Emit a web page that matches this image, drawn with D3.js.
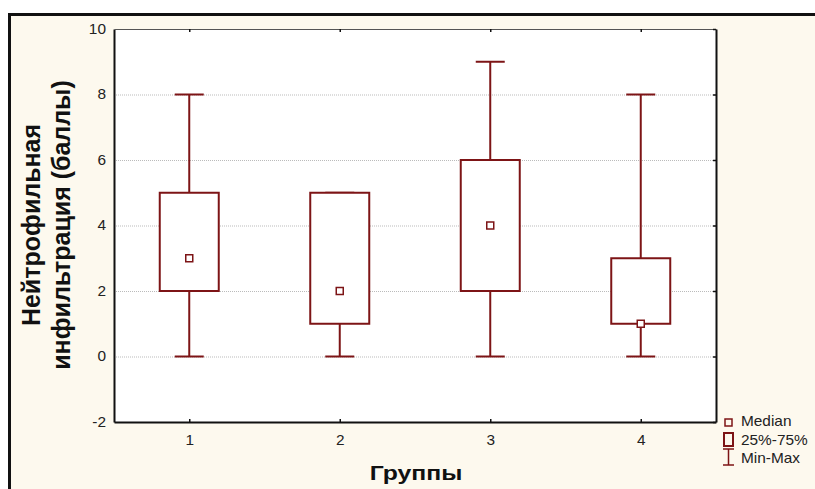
<!DOCTYPE html>
<html>
<head>
<meta charset="utf-8">
<script src="https://cdn.jsdelivr.net/npm/d3@7"></script>
<style>
  body { margin: 0; background: #fff; }
  svg { display: block; font-family: Arial, "Liberation Sans", sans-serif; }
</style>
</head>
<body>
<div id="chart"></div>
<script>
    // box plot data
    const groups = [1, 2, 3, 4];
    const minVals = [0, 0, 0, 0];
    const q1Vals = [2, 1, 2, 1];
    const medianVals = [3, 2, 4, 1];
    const q3Vals = [5, 5, 6, 3];
    const maxVals = [8, 5, 9, 8];
    const yTicks = [-2, 0, 2, 4, 6, 8, 10];
    const gridTicks = [0, 2, 4, 6, 8];
    const legendLabels = ["Median", "25%-75%", "Min-Max"];

    const width = 815;
    const height = 489;
    const plotLeft = 114, plotRight = 716, plotTop = 29, plotBottom = 422;
    const boxColor = "#7d1416";
    const boxWidth = 59;
    const capWidth = 29;
    const stretch = 1.1; // the original text looks a bit wide

    const data = groups.map((g, i) => ({
      group: g, min: minVals[i], q1: q1Vals[i], median: medianVals[i], q3: q3Vals[i], max: maxVals[i]
    }));

    const xScale = d3.scaleLinear().domain([0.5, 4.5]).range([plotLeft, plotRight]);
    const yScale = d3.scaleLinear().domain([-2, 10]).range([plotBottom, plotTop]);

    const svg = d3.select("#chart").append("svg")
      .attr("width", width)
      .attr("height", height);

    //BACKGROUND AND FRAME
    svg.append("rect")
      .attr("x", 8).attr("y", 13)
      .attr("width", width - 8).attr("height", height - 13)
      .attr("fill", "#fdf9ee");
    svg.append("line")
      .attr("x1", 8).attr("x2", width).attr("y1", 14.5).attr("y2", 14.5)
      .attr("stroke", "#111").attr("stroke-width", 3);
    svg.append("line")
      .attr("x1", 9.5).attr("x2", 9.5).attr("y1", 13).attr("y2", height)
      .attr("stroke", "#111").attr("stroke-width", 3);

    svg.append("rect")
      .attr("x", plotLeft).attr("y", plotTop)
      .attr("width", plotRight - plotLeft).attr("height", plotBottom - plotTop)
      .attr("fill", "#fff");

    //GRID
    svg.selectAll(".grid")
      .data(gridTicks)
      .enter()
      .append("line")
      .attr("class", "grid")
      .attr("x1", plotLeft).attr("x2", plotRight)
      .attr("y1", d => yScale(d) + 0.5).attr("y2", d => yScale(d) + 0.5)
      .attr("stroke", "#bbb")
      .attr("stroke-width", 1)
      .attr("stroke-dasharray", "1,1");

    //AXES
    const yAxis = d3.axisLeft(yScale).tickValues(yTicks).tickFormat(d => String(d)).tickSize(0).tickPadding(7.3);
    const gy = svg.append("g")
      .attr("transform", "translate(" + plotLeft + ",0)")
      .call(yAxis);

    const xAxis = d3.axisBottom(xScale).tickValues(groups).tickFormat(d => String(d))
      .tickSizeInner(-3).tickSizeOuter(0).tickPadding(13);
    const gx = svg.append("g")
      .attr("transform", "translate(0," + plotBottom + ")")
      .call(xAxis);

    const gTop = svg.append("g")
      .attr("transform", "translate(0," + plotTop + ")")
      .call(d3.axisTop(xScale).tickValues(groups).tickSizeInner(-3).tickSizeOuter(0).tickFormat(""));

    const gRight = svg.append("g")
      .attr("transform", "translate(" + plotRight + ",0)")
      .call(d3.axisRight(yScale).tickValues(yTicks).tickSizeInner(-3).tickSizeOuter(0).tickFormat(""));

    [gy, gx, gTop, gRight].forEach(g => {
      g.selectAll("text")
        .attr("transform", "scale(" + stretch + ",1)")
        .style("font-family", "Arial, 'Liberation Sans', sans-serif")
        .style("font-size", "14px")
        .style("fill", "#222");
      g.selectAll(".tick line").attr("stroke", "#111").attr("stroke-width", 1.5);
    });
    gy.select(".domain").attr("stroke", "#111").attr("stroke-width", 2);
    gx.select(".domain").attr("stroke", "#111").attr("stroke-width", 2);
    gTop.select(".domain").attr("stroke", "#555").attr("stroke-width", 1);
    gRight.select(".domain").attr("stroke", "#111").attr("stroke-width", 2);

    //BOXES
    const boxes = svg.selectAll(".box")
      .data(data)
      .enter()
      .append("g")
      .attr("class", "box");

    boxes.append("line")
      .attr("x1", d => xScale(d.group)).attr("x2", d => xScale(d.group))
      .attr("y1", d => yScale(d.max)).attr("y2", d => yScale(d.q3))
      .attr("stroke", boxColor).attr("stroke-width", 2);
    boxes.append("line")
      .attr("x1", d => xScale(d.group)).attr("x2", d => xScale(d.group))
      .attr("y1", d => yScale(d.q1)).attr("y2", d => yScale(d.min))
      .attr("stroke", boxColor).attr("stroke-width", 2);
    boxes.append("line")
      .attr("x1", d => xScale(d.group) - capWidth / 2).attr("x2", d => xScale(d.group) + capWidth / 2)
      .attr("y1", d => yScale(d.max)).attr("y2", d => yScale(d.max))
      .attr("stroke", boxColor).attr("stroke-width", 2);
    boxes.append("line")
      .attr("x1", d => xScale(d.group) - capWidth / 2).attr("x2", d => xScale(d.group) + capWidth / 2)
      .attr("y1", d => yScale(d.min)).attr("y2", d => yScale(d.min))
      .attr("stroke", boxColor).attr("stroke-width", 2);
    boxes.append("rect")
      .attr("x", d => xScale(d.group) - boxWidth / 2)
      .attr("y", d => yScale(d.q3))
      .attr("width", boxWidth)
      .attr("height", d => yScale(d.q1) - yScale(d.q3))
      .attr("fill", "#fff")
      .attr("stroke", boxColor).attr("stroke-width", 2);
    boxes.append("rect")
      .attr("x", d => xScale(d.group) - 3.5)
      .attr("y", d => yScale(d.median) - 3.5)
      .attr("width", 7).attr("height", 7)
      .attr("fill", "#fff")
      .attr("stroke", boxColor).attr("stroke-width", 1.5);

    //TITLES
    svg.append("text")
      .attr("transform", "translate(" + 416 + ",480) scale(1.18,1)")
      .attr("text-anchor", "middle")
      .attr("font-size", "21px")
      .attr("font-weight", "bold")
      .attr("fill", "#111")
      .text("Группы");

    const yTitle = svg.append("text")
      .attr("transform", "translate(0,225) rotate(-90)")
      .attr("text-anchor", "middle")
      .attr("font-size", "25px")
      .attr("font-weight", "bold")
      .attr("fill", "#111");
    yTitle.append("tspan").attr("x", 0).attr("y", 40).text("Нейтрофильная");
    yTitle.append("tspan").attr("x", 0).attr("y", 70).text("инфильтрация (баллы)");

    //LEGEND
    const legendX = 728;
    const legendY = [426, 445, 463];
    const legend = svg.append("g").attr("font-size", "14px").attr("fill", "#222");
    legend.append("rect")
      .attr("x", legendX - 3).attr("y", 419)
      .attr("width", 7).attr("height", 7)
      .attr("fill", "none").attr("stroke", boxColor).attr("stroke-width", 1.5);
    legend.append("rect")
      .attr("x", legendX - 4).attr("y", 433)
      .attr("width", 9).attr("height", 13)
      .attr("fill", "none").attr("stroke", boxColor).attr("stroke-width", 2);
    legend.append("path")
      .attr("d", "M" + (legendX - 5) + ",449H" + (legendX + 6) + "M" + (legendX + 0.5) + ",449V465M" + (legendX - 5) + ",465H" + (legendX + 6))
      .attr("fill", "none").attr("stroke", boxColor).attr("stroke-width", 1.5);
    legend.selectAll(".legend-label")
      .data(legendLabels)
      .enter()
      .append("text")
      .attr("class", "legend-label")
      .attr("transform", (d, i) => "translate(741," + legendY[i] + ") scale(" + stretch + ",1)")
      .text(d => d);
</script>
</body>
</html>
